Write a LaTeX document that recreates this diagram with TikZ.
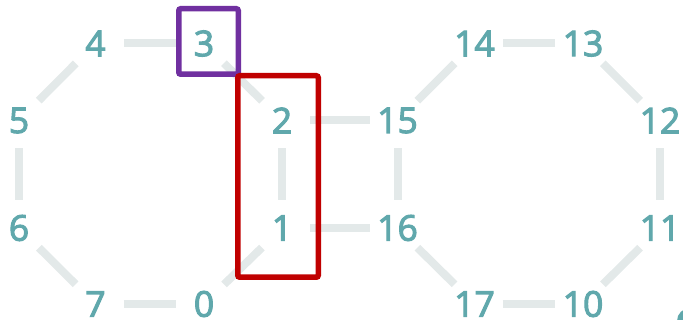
\documentclass[tikz,border=0pt]{standalone}
\usepackage{fontspec}
\newfontfamily\labelfont{Open Sans}[FakeBold=3]
\definecolor{vtxteal}{RGB}{96,168,172}
\definecolor{edgegray}{RGB}{227,233,233}
\definecolor{markpurple}{RGB}{112,48,160}
\definecolor{markred}{RGB}{192,0,0}
\tikzset{
  vtx/.style={inner sep=0pt, text=vtxteal, font=\labelfont\fontsize{35.5}{35.5}\selectfont},
  link/.style={draw=edgegray, line width=8pt, shorten <=28pt, shorten >=28pt},
  markbox/.style={line width=5.5pt, rounded corners=2pt},
}
\begin{document}
\begin{tikzpicture}[x=1pt, y=-1pt]
  \useasboundingbox (0,0) rectangle (683,320);
  % left ring
  \node[vtx] (n0) at (204,304) {0};
  \node[vtx] (n1) at (282,228) {1};
  \node[vtx] (n2) at (282,120.5) {2};
  \node[vtx] (n3) at (204,43.5) {3};
  \node[vtx] (n4) at (95.5,43.5) {4};
  \node[vtx] (n5) at (19,120.5) {5};
  \node[vtx] (n6) at (19,228) {6};
  \node[vtx] (n7) at (95.5,304) {7};
  % right ring
  \node[vtx] (n10) at (583,304) {10};
  \node[vtx] (n11) at (660,228) {11};
  \node[vtx] (n12) at (660,120.5) {12};
  \node[vtx] (n13) at (583,43.5) {13};
  \node[vtx] (n14) at (474.5,43.5) {14};
  \node[vtx] (n15) at (397.5,120.5) {15};
  \node[vtx] (n16) at (397.5,228) {16};
  \node[vtx] (n17) at (474.5,304) {17};
  % edges
  \foreach \a/\b in {n0/n1,n1/n2,n2/n3,n3/n4,n4/n5,n5/n6,n6/n7,n7/n0,
                     n10/n11,n11/n12,n12/n13,n13/n14,n14/n15,n15/n16,n16/n17,n17/n10,
                     n2/n15,n1/n16}
    \draw[link] (\a.center) -- (\b.center);
  % highlight frames
  \draw[markbox, draw=markpurple] (178.75,8.75) rectangle (238.25,74.25);
  \draw[markbox, draw=markred] (237.75,75.75) rectangle (318.25,277.25);
  % partly visible marker at the corner
  \fill[vtxteal] (690,321) circle (13);
\end{tikzpicture}
\end{document}
